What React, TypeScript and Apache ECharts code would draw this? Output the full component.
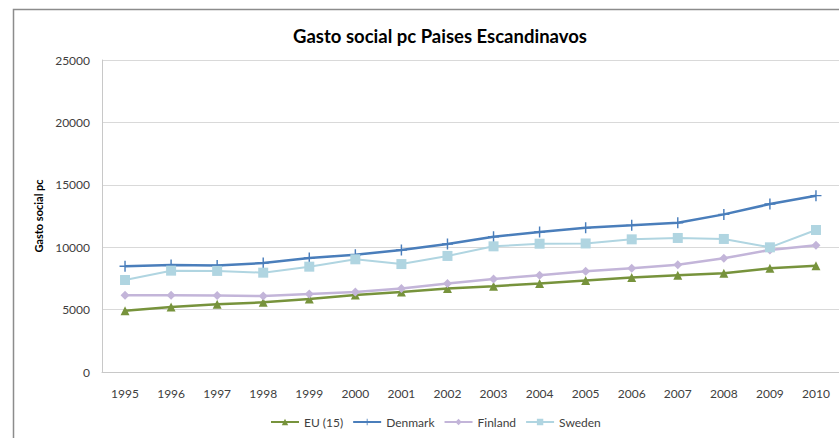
import React, { useEffect, useRef } from "react";
import * as echarts from "echarts";

const years = ["1995", "1996", "1997", "1998", "1999", "2000", "2001", "2002", "2003", "2004", "2005", "2006", "2007", "2008", "2009", "2010"];
const eu15 = [4910, 5210, 5420, 5580, 5850, 6170, 6410, 6700, 6870, 7100, 7340, 7580, 7750, 7910, 8310, 8520];
const denmark = [8470, 8570, 8540, 8730, 9130, 9400, 9780, 10260, 10840, 11220, 11560, 11750, 11960, 12630, 13460, 14130];
const finland = [6140, 6140, 6120, 6090, 6250, 6410, 6700, 7090, 7450, 7750, 8070, 8310, 8600, 9110, 9780, 10150];
const sweden = [7370, 8120, 8100, 7960, 8440, 9030, 8650, 9300, 10070, 10280, 10300, 10630, 10740, 10660, 9990, 11380];

const FONT = "Lato, 'Liberation Sans', sans-serif";
const PLUS = "path://M4,0 h1.2 v4 h4 v1.2 h-4 v4 h-1.2 v-4 h-4 v-1.2 h4 z";

export default function App() {
  const ref = useRef<HTMLDivElement>(null);
  useEffect(() => {
    if (!ref.current) return;
    const chart = echarts.init(ref.current, undefined, { renderer: "svg" });
    const mk = (name: string, data: number[], color: string, symbol: string, size: number, width: number) => ({
      name,
      type: "line",
      data,
      symbol,
      symbolSize: size,
      showSymbol: true,
      lineStyle: { color, width },
      itemStyle: { color },
      z: 3,
    });
    chart.setOption({
      animation: false,
      backgroundColor: "#ffffff",
      title: {
        text: "Gasto social pc Paises Escandinavos",
        left: 435,
        top: 21,
        textAlign: "center",
        textStyle: { fontFamily: FONT, fontSize: 18.5, fontWeight: "bold", color: "#000" },
      },
      graphic: [
        {
          type: "rect",
          shape: { x: 13.5, y: 9.5, width: 840, height: 440 },
          style: { fill: "none", stroke: "#8c8c8c", lineWidth: 1.5 },
          silent: true,
        },
      ],
      legend: {
        bottom: 5,
        left: 265,
        itemWidth: 28,
        itemHeight: 8,
        itemGap: 9,
        textStyle: { fontFamily: FONT, fontSize: 12, color: "#404040" },
        data: ["EU (15)", "Denmark", "Finland", "Sweden"],
      },
      grid: { left: 102, top: 60, right: -1, bottom: 66, containLabel: false },
      xAxis: {
        type: "category",
        data: years,
        boundaryGap: true,
        axisLine: { lineStyle: { color: "#c8c8c8", width: 1 } },
        axisTick: { show: false },
        axisLabel: { fontFamily: FONT, fontSize: 12, color: "#404040", margin: 15 },
      },
      yAxis: {
        type: "value",
        min: 0,
        max: 25000,
        interval: 5000,
        name: "Gasto social pc",
        nameLocation: "middle",
        nameGap: 58,
        nameTextStyle: { fontFamily: FONT, fontSize: 11, fontWeight: "bold", color: "#000" },
        axisLine: { show: true, lineStyle: { color: "#c8c8c8", width: 1 } },
        axisTick: { show: false },
        splitLine: { lineStyle: { color: "#d9d9d9", width: 1 } },
        axisLabel: {
          fontFamily: FONT,
          fontSize: 12,
          color: "#404040",
          margin: 12,
          formatter: (v: number) => String(v),
        },
      },
      series: [
        mk("EU (15)", eu15, "#77933c", "triangle", 9, 2.5),
        mk("Denmark", denmark, "#4a7ebb", PLUS, 11, 2.5),
        mk("Finland", finland, "#c3b5d9", "diamond", 9, 2.5),
        mk("Sweden", sweden, "#b0d5e1", "rect", 10, 2),
      ],
    });
    return () => chart.dispose();
  }, []);
  return <div ref={ref} style={{ position: "fixed", left: 0, top: 0, width: 839, height: 438 }} />;
}
